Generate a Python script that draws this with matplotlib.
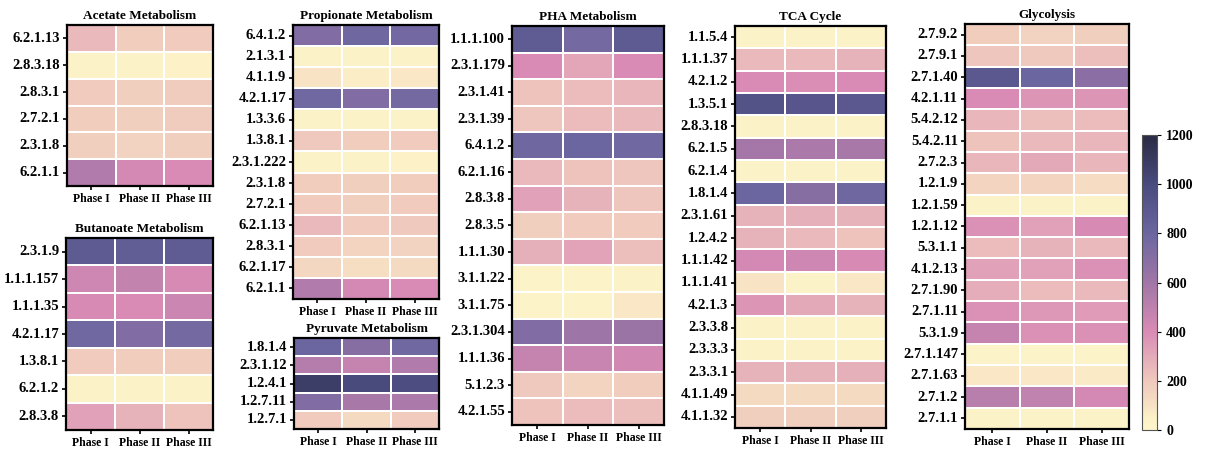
import numpy as np
import matplotlib
matplotlib.use("agg")
import matplotlib.pyplot as plt
from matplotlib.colors import LinearSegmentedColormap, Normalize
import seaborn as sns

plt.rcParams['font.family'] = ['Liberation Serif', 'DejaVu Serif']
plt.rcParams['font.weight'] = 'bold'

phases = ["Phase I", "Phase II", "Phase III"]

# enzyme abundance per phase (EC numbers)
acetate_ec = ["6.2.1.13", "2.8.3.18", "2.8.3.1", "2.7.2.1", "2.3.1.8", "6.2.1.1"]
acetate_vals = [[250, 180, 190], [40, 40, 45], [190, 170, 185],
                [180, 170, 185], [170, 160, 170], [540, 420, 400]]

butanoate_ec = ["2.3.1.9", "1.1.1.157", "1.1.1.35", "4.2.1.17", "1.3.8.1", "6.2.1.2", "2.8.3.8"]
butanoate_vals = [[880, 860, 870], [440, 480, 410], [410, 400, 450], [780, 720, 760],
                  [190, 180, 180], [40, 40, 40], [330, 270, 220]]

propionate_ec = ["6.4.1.2", "2.1.3.1", "4.1.1.9", "4.2.1.17", "1.3.3.6", "1.3.8.1", "2.3.1.222",
                 "2.3.1.8", "2.7.2.1", "6.2.1.13", "2.8.3.1", "6.2.1.17", "6.2.1.1"]
propionate_vals = [[720, 790, 770], [40, 35, 40], [90, 60, 80], [780, 720, 760], [40, 40, 40],
                   [200, 180, 190], [40, 40, 45], [180, 170, 180], [190, 170, 190],
                   [250, 190, 200], [190, 150, 160], [140, 110, 130], [540, 420, 400]]

pyruvate_ec = ["1.8.1.4", "2.3.1.12", "1.2.4.1", "1.2.7.11", "1.2.7.1"]
pyruvate_vals = [[800, 700, 780], [530, 470, 540], [1080, 1000, 980], [720, 580, 560], [190, 130, 190]]

pha_ec = ["1.1.1.100", "2.3.1.179", "2.3.1.41", "2.3.1.39", "6.4.1.2", "6.2.1.16", "2.8.3.8",
          "2.8.3.5", "1.1.1.30", "3.1.1.22", "3.1.1.75", "2.3.1.304", "1.1.1.36", "5.1.2.3", "4.2.1.55"]
pha_vals = [[870, 760, 880], [400, 310, 400], [220, 240, 260], [210, 240, 250], [790, 800, 780],
            [250, 220, 210], [330, 270, 210], [170, 190, 190], [280, 320, 230], [30, 30, 40],
            [30, 30, 80], [720, 610, 620], [470, 460, 430], [200, 150, 180], [220, 240, 230]]

tca_ec = ["1.1.5.4", "1.1.1.37", "4.2.1.2", "1.3.5.1", "2.8.3.18", "6.2.1.5", "6.2.1.4", "1.8.1.4",
          "2.3.1.61", "1.2.4.2", "1.1.1.42", "1.1.1.41", "4.2.1.3", "2.3.3.8", "2.3.3.3", "2.3.3.1",
          "4.1.1.49", "4.1.1.32"]
tca_vals = [[40, 40, 40], [250, 250, 270], [400, 390, 400], [940, 920, 900], [40, 40, 40],
            [590, 560, 580], [40, 40, 40], [800, 700, 790], [270, 280, 270], [270, 250, 220],
            [420, 440, 410], [90, 40, 80], [370, 300, 270], [40, 40, 40], [40, 40, 40],
            [270, 270, 280], [130, 130, 130], [170, 170, 170]]

glyco_ec = ["2.7.9.2", "2.7.9.1", "2.7.1.40", "4.2.1.11", "5.4.2.12", "5.4.2.11", "2.7.2.3",
            "1.2.1.9", "1.2.1.59", "1.2.1.12", "5.3.1.1", "4.1.2.13", "2.7.1.90", "2.7.1.11",
            "5.3.1.9", "2.7.1.147", "2.7.1.63", "2.7.1.2", "2.7.1.1"]
glyco_vals = [[180, 160, 170], [210, 200, 230], [900, 800, 680], [400, 370, 370], [260, 230, 240],
              [220, 250, 260], [260, 300, 260], [150, 150, 120], [40, 40, 40], [380, 330, 410],
              [240, 270, 250], [330, 330, 380], [290, 240, 250], [380, 360, 350], [470, 380, 380],
              [30, 30, 30], [80, 80, 70], [520, 490, 420], [40, 40, 40]]

cmap = LinearSegmentedColormap.from_list("enz", [
    (0.0, "#fdf5ca"), (0.04, "#fcf1c7"), (1/12, "#f7e0c4"), (1/6, "#efc8bd"),
    (2/6, "#d98bb5"), (3/6, "#a176a7"), (4/6, "#6b66a0"), (5/6, "#4a4b7e"), (1.0, "#2b2b45")])
norm = Normalize(0, 1200)

W, H = 1206, 457
fig = plt.figure(figsize=(W / 100, H / 100), dpi=100)


def px_axes(l, t, r, b):
    return fig.add_axes([l / W, 1 - b / H, (r - l) / W, (b - t) / H])


panels = [
    ("Acetate Metabolism", acetate_ec, acetate_vals, (67, 25, 213, 186)),
    ("Butanoate Metabolism", butanoate_ec, butanoate_vals, (66, 238, 213, 430)),
    ("Propionate Metabolism", propionate_ec, propionate_vals, (293, 25, 439, 299)),
    ("Pyruvate Metabolism", pyruvate_ec, pyruvate_vals, (294, 338, 439, 429)),
    ("PHA Metabolism", pha_ec, pha_vals, (512, 26, 664, 425)),
    ("TCA Cycle", tca_ec, tca_vals, (735, 26, 886, 428)),
    ("Glycolysis", glyco_ec, glyco_vals, (965, 24, 1129, 429)),
]

for title, ec, vals, box in panels:
    ax = px_axes(*box)
    sns.heatmap(np.array(vals), ax=ax, cmap=cmap, vmin=0, vmax=1200, cbar=False,
                linewidths=1.1, linecolor="white", xticklabels=phases, yticklabels=ec)
    for s in ax.spines.values():
        s.set_visible(True)
        s.set_linewidth(1.6)
        s.set_color("black")
    ax.tick_params(axis="both", length=3, width=1.2, color="black", pad=2)
    ax.set_yticklabels(ec, rotation=0, fontsize=10.5, fontweight="bold")
    ax.set_xticklabels(phases, rotation=0, fontsize=8.5, fontweight="bold")
    ax.set_title(title, fontsize=9.5, fontweight="bold", pad=4)

cax = px_axes(1142, 135, 1157, 430)
sm = matplotlib.cm.ScalarMappable(norm=norm, cmap=cmap)
cb = fig.colorbar(sm, cax=cax, ticks=[0, 200, 400, 600, 800, 1000, 1200])
cb.outline.set_linewidth(0.8)
cb.outline.set_edgecolor("#555555")
cax.tick_params(length=3, width=0.8, labelsize=10)
for t in cax.get_yticklabels():
    t.set_fontweight("bold")

fig.savefig("out.png", dpi=100)
